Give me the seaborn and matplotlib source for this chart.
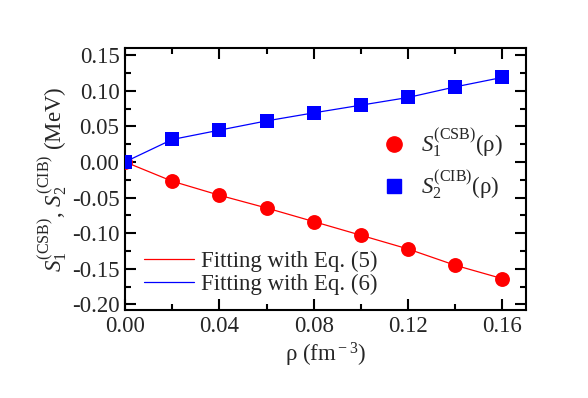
import matplotlib
matplotlib.use('Agg')
import matplotlib.pyplot as plt
from matplotlib.lines import Line2D
from matplotlib.ticker import MultipleLocator, FormatStrFormatter
import numpy as np
import seaborn as sns
import pandas as pd

# densities (fm^-3)
rho = [0.00, 0.02, 0.04, 0.06, 0.08, 0.10, 0.12, 0.14, 0.16]
# charge symmetry breaking term S1 (MeV)
s1_csb = [0.0, -0.0271, -0.0468, -0.0647, -0.0838, -0.1030, -0.1223, -0.1452, -0.1640]
# charge independence breaking term S2 (MeV)
s2_cib = [0.0, 0.0315, 0.0446, 0.0576, 0.0689, 0.0797, 0.0905, 0.1054, 0.1187]

df = pd.DataFrame({'rho': rho, 'S1': s1_csb, 'S2': s2_cib})

sns.set_style("ticks")
plt.rcParams['font.family'] = ['Liberation Serif', 'DejaVu Serif']
plt.rcParams['mathtext.fontset'] = 'custom'
plt.rcParams['mathtext.rm'] = 'Liberation Serif'
plt.rcParams['mathtext.it'] = 'Liberation Serif:italic'
plt.rcParams['axes.unicode_minus'] = False

fs = 16.5

fig = plt.figure(figsize=(5.88, 3.98), dpi=100)
ax = fig.add_axes([0.2126, 0.2211, 0.682, 0.6583])

# fitted curves
sns.lineplot(data=df, x='rho', y='S1', ax=ax, color='red', lw=0.9)
sns.lineplot(data=df, x='rho', y='S2', ax=ax, color='blue', lw=0.9)
# data points
sns.scatterplot(data=df, x='rho', y='S1', ax=ax, color='red', marker='o', s=115,
                edgecolor='red', linewidth=0, zorder=3)
sns.scatterplot(data=df, x='rho', y='S2', ax=ax, color='blue', marker='s', s=105,
                edgecolor='blue', linewidth=0, zorder=3)

ax.set_xlim(0, 0.17)
ax.set_ylim(-0.208, 0.16)
ax.xaxis.set_major_locator(MultipleLocator(0.04))
ax.xaxis.set_minor_locator(MultipleLocator(0.02))
ax.yaxis.set_major_locator(MultipleLocator(0.05))
ax.yaxis.set_minor_locator(MultipleLocator(0.025))
ax.xaxis.set_major_formatter(FormatStrFormatter('%.2f'))
ax.yaxis.set_major_formatter(FormatStrFormatter('%.2f'))
ax.tick_params(which='both', direction='in', top=True, right=True, width=1.5,
               labelsize=fs, color='black', pad=4)
ax.tick_params(which='major', length=8)
ax.tick_params(which='minor', length=4)
for sp in ax.spines.values():
    sp.set_linewidth(1.5)
    sp.set_color('black')

ax.set_xlabel(r'ρ (fm$^{\rm -3}$)', fontsize=fs, labelpad=3)
ax.set_ylabel(r'$S_1^{\rm (CSB)}$, $S_2^{\rm (CIB)}$ (MeV)', fontsize=fs, labelpad=2)

marker_handles = [
    Line2D([], [], color='red', marker='o', ls='none', ms=11),
    Line2D([], [], color='blue', marker='s', ls='none', ms=10),
]
leg1 = ax.legend(marker_handles,
                 [r'$S_1^{\rm (CSB)}$(ρ)', r'$S_2^{\rm (CIB)}$(ρ)'],
                 loc='upper left', bbox_to_anchor=(0.59, 0.735), frameon=False,
                 fontsize=fs, labelspacing=0.4, handletextpad=0.2, borderaxespad=0)
ax.add_artist(leg1)

line_handles = [
    Line2D([], [], color='red', lw=0.9),
    Line2D([], [], color='blue', lw=0.9),
]
ax.legend(line_handles, ['Fitting with Eq. (5)', 'Fitting with Eq. (6)'],
          loc='lower left', bbox_to_anchor=(0.01, 0.0), frameon=False,
          fontsize=fs, labelspacing=0.1, handlelength=2.2, handletextpad=0.3,
          borderaxespad=0.25)

fig.savefig('out.png', dpi=100)
